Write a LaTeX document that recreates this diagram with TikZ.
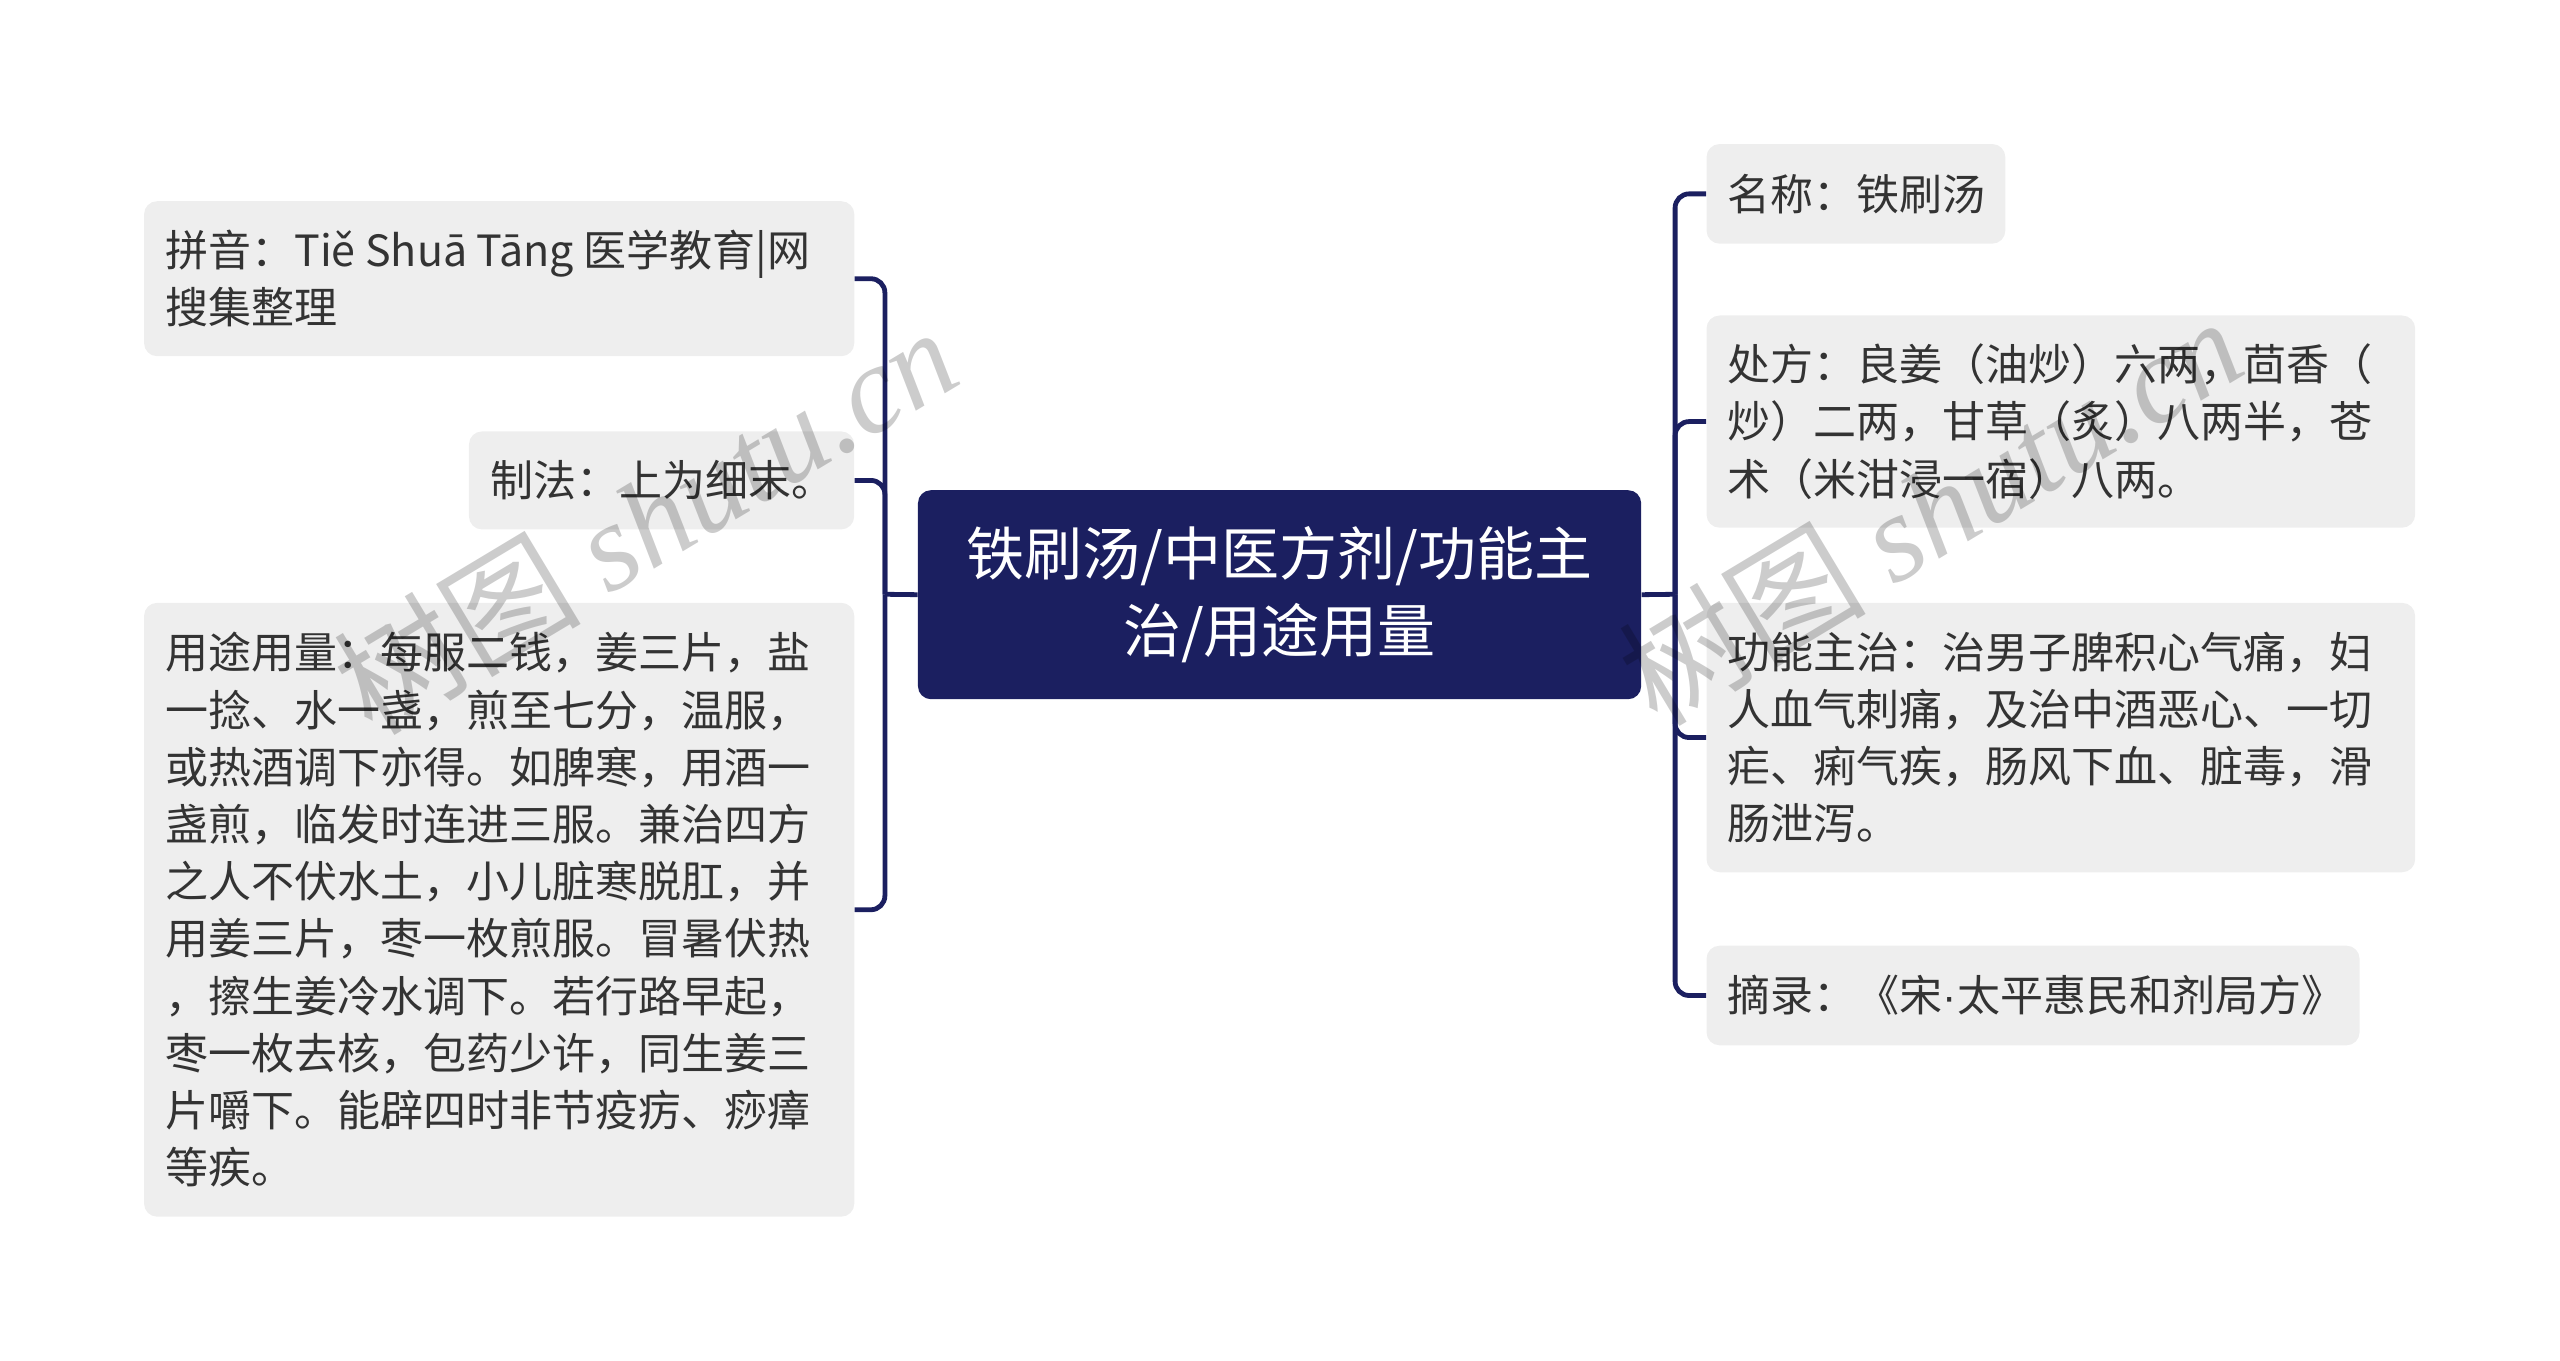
\documentclass[tikz,border=0pt]{standalone}
\usepackage{fontspec}
\setmainfont{Noto Sans CJK SC}
\newfontfamily\wmserif{Liberation Serif}
\newfontfamily\latinsans{Liberation Sans}
\definecolor{navy}{RGB}{27,31,96}
\definecolor{boxgray}{RGB}{238,238,238}
\definecolor{txtgray}{RGB}{51,51,51}
\tikzset{
  leafbox/.style={fill=boxgray, draw=none, rounded corners=6.5pt, inner sep=0pt, anchor=north west},
  leaftext/.style={font=\fontsize{21.5pt}{28.6pt}\selectfont, text=txtgray, align=left, inner sep=0pt, anchor=west},
  rootbox/.style={fill=navy, draw=none, rounded corners=6.5pt, inner sep=0pt, anchor=north west,
    text=white, align=center, font=\fontsize{29pt}{38.4pt}\selectfont},
  conn/.style={draw=navy, line width=2.4pt, rounded corners=7pt},
  wmark/.style={text=black, text opacity=0.2, font=\fontsize{62pt}{64pt}\selectfont, inner sep=0pt, rotate=31}
}
\begin{document}
\begin{tikzpicture}[x=0.8163pt, y=-0.8163pt]
\useasboundingbox (0,0) rectangle (1568,833.6);

% root
\node[rootbox, minimum width=361.6pt, minimum height=104.5pt] (root) at (562,300)
  {铁刷汤/中医方剂/功能主\\治/用途用量};

% left boxes
\node[leafbox, minimum width=355.1pt, minimum height=77.5pt] (L1) at (88,123) {};
\node[leaftext] (L1t) at ([xshift=10.6pt]L1.west) {拼音：Tiě Shuā Tāng 医学教育|网\\搜集整理};

\node[leafbox, minimum width=192.6pt, minimum height=49pt] (L2) at (287,264) {};
\node[leaftext] (L2t) at ([xshift=10.6pt]L2.west) {制法：上为细末。};

\node[leafbox, minimum width=355.1pt, minimum height=306.9pt] (L3) at (88,369) {};
\node[leaftext] (L3t) at ([xshift=10.6pt]L3.west) {用途用量：每服二钱，姜三片，盐\\一捻、水一盏，煎至七分，温服，\\或热酒调下亦得。如脾寒，用酒一\\盏煎，临发时连进三服。兼治四方\\之人不伏水土，小儿脏寒脱肛，并\\用姜三片，枣一枚煎服。冒暑伏热\\，擦生姜冷水调下。若行路早起，\\枣一枚去核，包药少许，同生姜三\\片嚼下。能辟四时非节疫疠、痧瘴\\等疾。};

% right boxes
\node[leafbox, minimum width=149.4pt, minimum height=49.8pt] (R1) at (1045,88) {};
\node[leaftext] (R1t) at ([xshift=10.6pt]R1.west) {名称：铁刷汤};

\node[leafbox, minimum width=354.3pt, minimum height=106.1pt] (R2) at (1045,193) {};
\node[leaftext] (R2t) at ([xshift=10.6pt]R2.west) {处方：良姜（油炒）六两，茴香（\\炒）二两，甘草（炙）八两半，苍\\术（米泔浸一宿）八两。};

\node[leafbox, minimum width=354.3pt, minimum height=134.7pt] (R3) at (1045,369) {};
\node[leaftext] (R3t) at ([xshift=10.6pt]R3.west) {功能主治：治男子脾积心气痛，妇\\人血气刺痛，及治中酒恶心、一切\\疟、痢气疾，肠风下血、脏毒，滑\\肠泄泻。};

\node[leafbox, minimum width=326.5pt, minimum height=49.8pt] (R4) at (1045,579) {};
\node[leaftext] (R4t) at ([xshift=10.6pt]R4.west) {摘录：《宋{\latinsans ·}太平惠民和剂局方》};

% connectors
\coordinate (lj) at (542,364);
\coordinate (rj) at (1026,364);
\draw[conn] (root.west) -- (lj);
\draw[conn] (lj) |- (L1.east);
\draw[conn] (lj) |- (L2.east);
\draw[conn] (lj) |- (L3.east);
\draw[conn] (root.east) -- (rj);
\draw[conn] (rj) |- (R1.west);
\draw[conn] (rj) |- (R2.west);
\draw[conn] (rj) |- (R3.west);
\draw[conn] (rj) |- (R4.west);

% watermarks
\node[wmark] (wm1) at (395,318) {树图 {\wmserif\itshape shutu.cn}};
\node[wmark] (wm2) at (1182,312) {树图 {\wmserif\itshape shutu.cn}};
\end{tikzpicture}
\end{document}
